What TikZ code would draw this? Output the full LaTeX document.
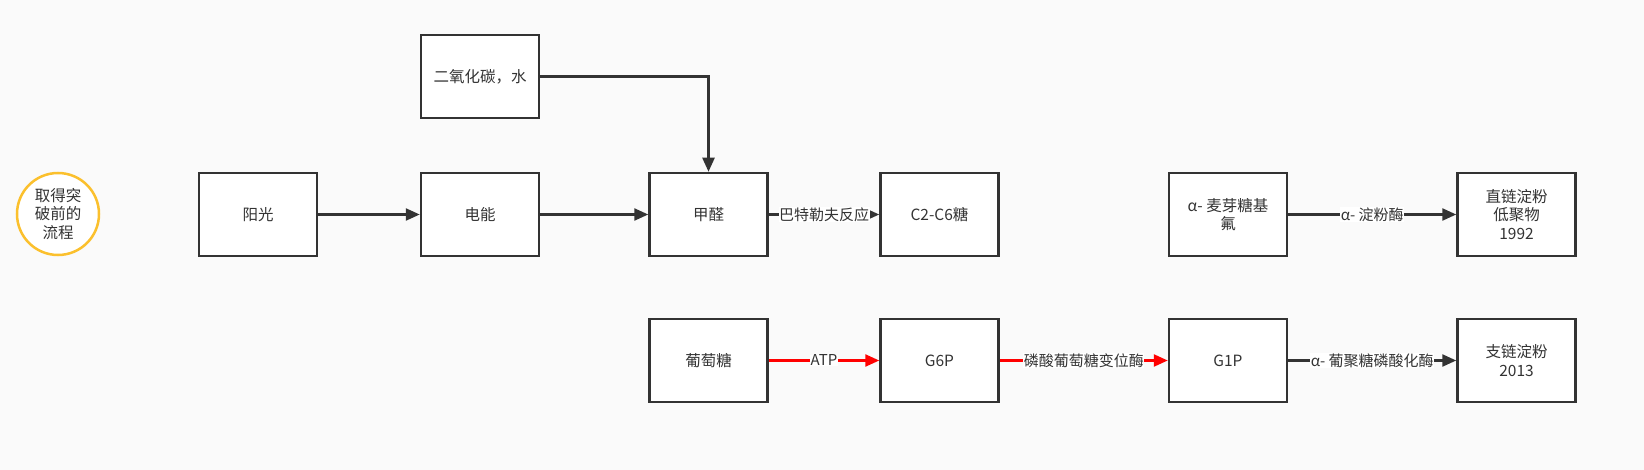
\documentclass[tikz,border=0pt]{standalone}
\usepackage{fontspec}
\setmainfont{Noto Sans CJK SC}
\usetikzlibrary{arrows.meta}
\definecolor{bg}{RGB}{250,250,250}
\definecolor{ink}{RGB}{51,51,51}
\definecolor{ring}{RGB}{251,192,45}
\definecolor{redline}{RGB}{255,0,0}
\tikzset{
  box/.style={draw=ink, fill=white, line width=2.5pt, minimum width=118pt, minimum height=83pt, align=center, text=ink, font=\fontsize{15.5}{18.5}\selectfont, inner sep=2pt},
  ringnode/.style={circle, draw=ring, fill=white, line width=2.5pt, minimum size=82pt, align=center, text=ink, font=\fontsize{15.5}{18.5}\selectfont, inner sep=0pt},
  arr/.style={color=ink, line width=2.4pt, -{Triangle[length=14pt,width=12pt]}},
  redarr/.style={color=redline, line width=2.4pt, -{Triangle[length=14pt,width=12pt]}},
  lbl/.style={fill=white, text=ink, font=\fontsize{15}{18}\selectfont, inner sep=0.5pt}
}
\begin{document}
\begin{tikzpicture}[x=1pt,y=-1pt]
\fill[bg] (0,0) rectangle (1644,470);
\useasboundingbox (0,0) rectangle (1644,470);
\node[ringnode] (start) at (58,214) {取得突\\破前的\\流程};
\node[box] (sun) at (258,214.5) {阳光};
\node[box] (co2) at (480,76.5) {二氧化碳，水};
\node[box] (elec) at (480,214.5) {电能};
\node[box] (hcho) at (708.5,214.5) {甲醛};
\node[box] (sugar) at (939.5,214.5) {C2-C6糖};
\node[box] (amf) at (1228,214.5) {α- 麦芽糖基\\氟};
\node[box] (amy) at (1516.5,214.5) {直链淀粉\\低聚物\\1992};
\node[box] (glc) at (708.5,360.5) {葡萄糖};
\node[box] (g6p) at (939.5,360.5) {G6P};
\node[box] (g1p) at (1228,360.5) {G1P};
\node[box] (apn) at (1516.5,360.5) {支链淀粉\\2013};
\draw[arr] (sun) -- (elec);
\draw[arr] (elec) -- (hcho);
\draw[arr] (co2.east) -| (hcho.north);
\draw[arr] (hcho) -- node[lbl]{巴特勒夫反应} (sugar);
\draw[arr] (amf) -- node[lbl]{α- 淀粉酶} (amy);
\draw[redarr] (glc) -- node[lbl]{ATP} (g6p);
\draw[redarr] (g6p) -- node[lbl]{磷酸葡萄糖变位酶} (g1p);
\draw[arr] (g1p) -- node[lbl]{α- 葡聚糖磷酸化酶} (apn);
\end{tikzpicture}
\end{document}
